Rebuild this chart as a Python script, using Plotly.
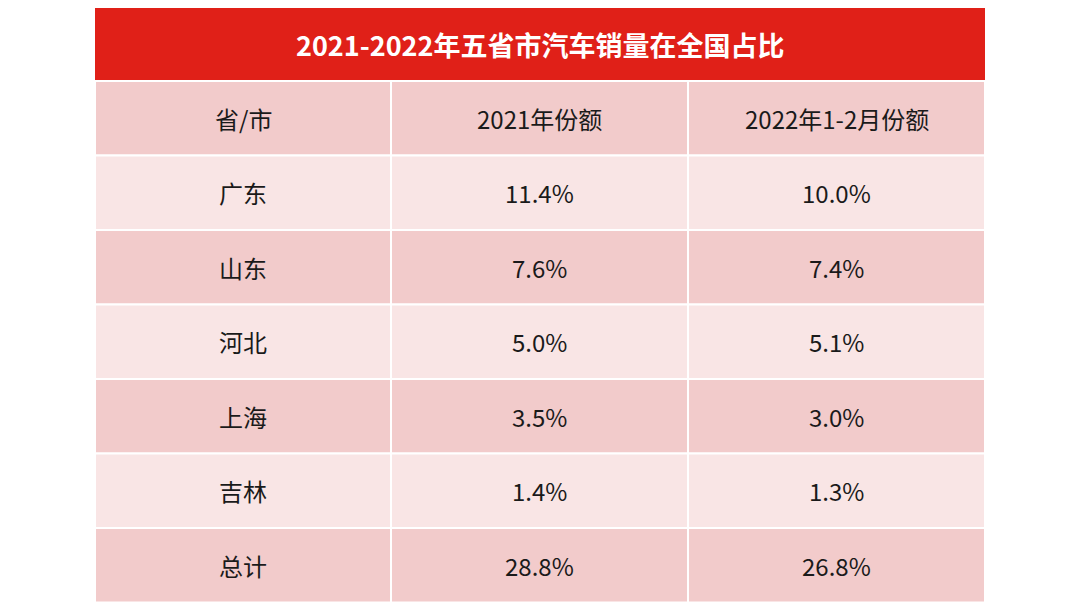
import plotly.graph_objects as go

title = "2021-2022年五省市汽车销量在全国占比"
headers = ["省/市", "2021年份额", "2022年1-2月份额"]
regions = ["广东", "山东", "河北", "上海", "吉林", "总计"]
share_2021 = ["11.4%", "7.6%", "5.0%", "3.5%", "1.4%", "28.8%"]
share_2022 = ["10.0%", "7.4%", "5.1%", "3.0%", "1.3%", "26.8%"]

W, H = 1080, 608
OFF = 8  # page body margin
def px(x): return (x - OFF) / W
def py(y): return 1 - (y - OFF) / H

x0, x1 = 95, 985
col_edges = [95, 391, 688, 985]
top, row_h = 81, 74.5
font = dict(family="Noto Sans CJK SC", size=24, color="#1a1a1a")

fig = go.Figure()
# title bar
fig.add_shape(type="rect", xref="paper", yref="paper", x0=px(x0), x1=px(x1),
              y0=py(80), y1=py(8), fillcolor="#E02018", line_width=0)
fig.add_annotation(text="<b>" + title + "</b>", xref="paper", yref="paper",
                   x=px((x0 + x1) / 2), y=py(44), xanchor="center", yanchor="middle",
                   showarrow=False, font=dict(family="Noto Sans CJK SC", size=27, color="white"))

rows = [headers] + [[r, a, b] for r, a, b in zip(regions, share_2021, share_2022)]
for i, row in enumerate(rows):
    y_top = top + i * row_h
    fill = "#F2CBCB" if i % 2 == 0 else "#F9E5E5"
    for j, txt in enumerate(row):
        fig.add_shape(type="rect", xref="paper", yref="paper",
                      x0=px(col_edges[j]), x1=px(col_edges[j + 1]),
                      y0=py(y_top + row_h), y1=py(y_top), fillcolor=fill,
                      line=dict(color="white", width=2))
        fig.add_annotation(text=txt, xref="paper", yref="paper",
                           x=px((col_edges[j] + col_edges[j + 1]) / 2), y=py(y_top + row_h / 2),
                           xanchor="center", yanchor="middle", showarrow=False, font=font)

fig.update_xaxes(visible=False, range=[0, 1])
fig.update_yaxes(visible=False, range=[0, 1])
fig.update_layout(width=W, height=H, margin=dict(l=0, r=0, t=0, b=0),
                  paper_bgcolor="white", plot_bgcolor="white")
fig.write_html("out.html")
